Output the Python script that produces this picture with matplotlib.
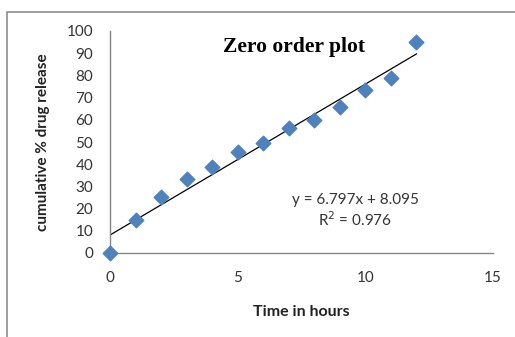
import numpy as np
import matplotlib.pyplot as plt
from matplotlib.patches import Rectangle

# release data
time_h = [0, 1, 2, 3, 4, 5, 6, 7, 8, 9, 10, 11, 12]
release = [0, 14.9, 25.2, 33.3, 38.7, 45.5, 49.5, 56.3, 60.0, 65.8, 73.4, 78.8, 95.0]
slope = 6.797
intercept = 8.095
r2 = 0.976

fig = plt.figure(figsize=(5.15, 3.37), dpi=100)
# outer chart frame
fig.patches.append(Rectangle((7 / 515, -0.1), 1.2, 1 - 12 / 337 + 0.1,
                             transform=fig.transFigure, fill=False,
                             edgecolor='#8c8c8c', linewidth=1.2))

ax = fig.add_axes([110 / 515, 1 - 253 / 337, 383 / 515, 222 / 337])
ax.scatter(time_h, release, marker='D', s=55, color='#4F81BD', zorder=3, clip_on=False)
xx = np.array([0, 12])
ax.plot(xx, slope * xx + intercept, color='black', linewidth=0.9)

ax.set_xlim(0, 15)
ax.set_ylim(0, 100)
ax.set_xticks([0, 5, 10, 15])
ax.set_yticks(range(0, 101, 10))
for s in ['top', 'right']:
    ax.spines[s].set_visible(False)
for s in ['left', 'bottom']:
    ax.spines[s].set_color('#868686')
    ax.spines[s].set_linewidth(1.0)
ax.tick_params(axis='y', length=0, pad=12, labelsize=11, labelcolor='#333333')
ax.tick_params(axis='x', length=0, pad=13, labelsize=11, labelcolor='#333333')
for lab in ax.get_xticklabels() + ax.get_yticklabels():
    lab.set_family('Lato')

ax.set_xlabel('Time in hours', family='Lato', fontweight='bold', fontsize=11.5,
              labelpad=14, color='#222222')
ax.set_ylabel('cumulative % drug release', family='Lato', fontweight='bold',
              fontsize=11, labelpad=12, color='#222222')

fig.text(294 / 515, 1 - 47 / 337, 'Zero order plot', family='Liberation Serif',
         fontweight='bold', fontsize=15.5, ha='center', va='center')
fig.text(355 / 515, 1 - 200 / 337, f'y = {slope}x + {intercept}', family='Lato',
         fontsize=11, ha='center', va='center', color='#333333')
fig.text(355 / 515, 1 - 220 / 337, f'R$^2$ = {r2}', family='Lato',
         fontsize=11, ha='center', va='center', color='#333333')

fig.savefig('out.png', dpi=100)
